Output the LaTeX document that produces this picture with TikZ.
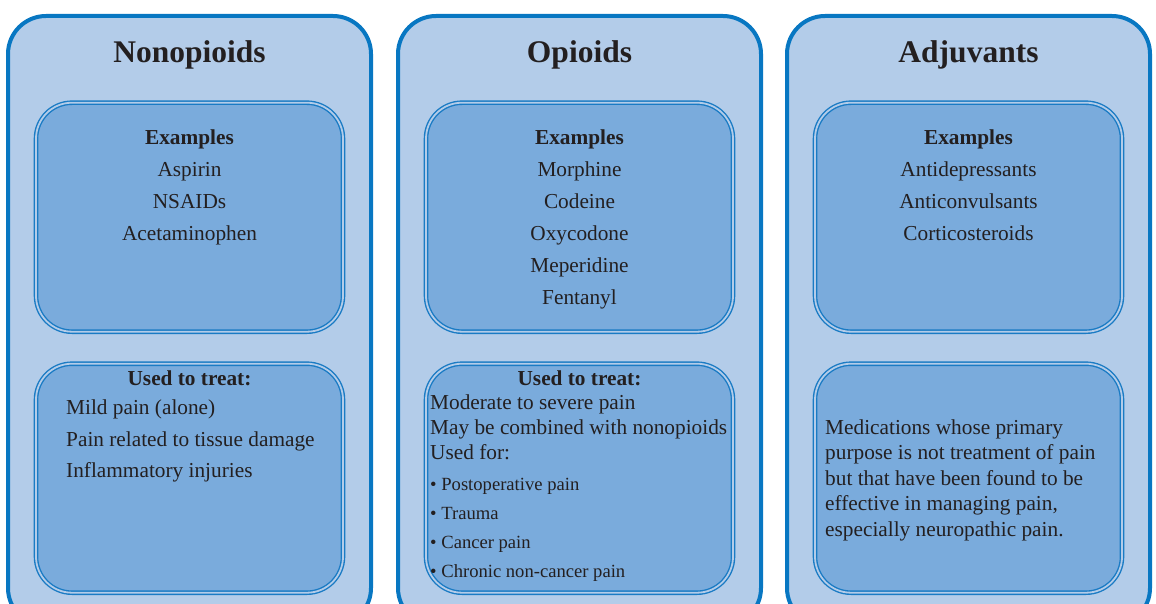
\documentclass[tikz,border=0pt]{standalone}
\usepackage{fontspec}
\setmainfont{Liberation Serif}
\definecolor{rimblue}{HTML}{0877C2}
\definecolor{panelfill}{HTML}{B3CCE9}
\definecolor{cardfill}{HTML}{7AABDC}
\definecolor{cardline}{HTML}{1A7BC4}
\definecolor{ink}{HTML}{231F20}
\begin{document}
\begin{tikzpicture}[x=1pt,y=-1pt,
  panel/.style={draw=rimblue,line width=4pt,fill=panelfill,rounded corners=38pt,
    minimum width=363pt,minimum height=610pt,inner sep=0pt,anchor=north},
  card/.style={draw=cardline,line width=1.4pt,double=panelfill,double distance=1.8pt,
    fill=cardfill,rounded corners=36pt,minimum width=307pt,minimum height=229pt,
    inner sep=0pt,anchor=north},
  title/.style={text=ink,font=\fontsize{31.5}{36}\selectfont\bfseries,anchor=base,inner sep=0pt},
  head/.style={text=ink,font=\fontsize{21.3}{25}\selectfont\bfseries,anchor=base,inner sep=0pt},
  item/.style={text=ink,font=\fontsize{21.3}{25}\selectfont,anchor=base,inner sep=0pt},
  litem/.style={item,anchor=base west},
  bitem/.style={text=ink,font=\fontsize{18.6}{21}\selectfont,anchor=base west,inner sep=0pt},
]
\useasboundingbox (0,0) rectangle (1156,604);
\clip (0,0) rectangle (1156,604);

% three columns
\node[panel] (p1) at (189.5,14) {};
\node[panel] (p2) at (579.5,14) {};
\node[panel] (p3) at (968.5,14) {};

% example cards and treatment cards
\node[card] (e1) at (189.5,102) {};
\node[card] (e2) at (579.5,102) {};
\node[card] (e3) at (968.5,102) {};
\node[card] (u1) at (189.5,363) {};
\node[card] (u2) at (579.5,363) {};
\node[card] (u3) at (968.5,363) {};

% titles
\node[title] (t1) at (189.5,63) {Nonopioids};
\node[title] (t2) at (579.5,63) {Opioids};
\node[title] (t3) at (968.5,63) {Adjuvants};

% nonopioids
\node[head] (h1) at (189.5,144.5) {Examples};
\node[item] (a1) at (189.5,176.5) {Aspirin};
\node[item] (a2) at (189.5,208.5) {NSAIDs};
\node[item] (a3) at (189.5,240.5) {Acetaminophen};
\node[head] (k1) at (189.5,385) {Used to treat:};
\node[litem] (m1) at (66,414.5) {Mild pain (alone)};
\node[litem] (m2) at (66,446) {Pain related to tissue damage};
\node[litem] (m3) at (66,477.5) {Inflammatory injuries};

% opioids
\node[head] (h2) at (579.5,144.5) {Examples};
\node[item] (b1) at (579.5,176.5) {Morphine};
\node[item] (b2) at (579.5,208.5) {Codeine};
\node[item] (b3) at (579.5,240.5) {Oxycodone};
\node[item] (b4) at (579.5,272.5) {Meperidine};
\node[item] (b5) at (579.5,304.5) {Fentanyl};
\node[head] (k2) at (579.5,385) {Used to treat:};
\node[litem] (n1) at (430,409) {Moderate to severe pain};
\node[litem] (n2) at (430,434.5) {May be combined with nonopioids};
\node[litem] (n3) at (430,459.5) {Used for:};
\node[bitem] (q1) at (430,490) {\textbullet\ Postoperative pain};
\node[bitem] (q2) at (430,519) {\textbullet\ Trauma};
\node[bitem] (q3) at (430,548) {\textbullet\ Cancer pain};
\node[bitem] (q4) at (430,577) {\textbullet\ Chronic non-cancer pain};

% adjuvants
\node[head] (h3) at (968.5,144.5) {Examples};
\node[item] (c1) at (968.5,176.5) {Antidepressants};
\node[item] (c2) at (968.5,208.5) {Anticonvulsants};
\node[item] (c3) at (968.5,240.5) {Corticosteroids};
\node[litem] (r1) at (825,434) {Medications whose primary};
\node[litem] (r2) at (825,459.5) {purpose is not treatment of pain};
\node[litem] (r3) at (825,485) {but that have been found to be};
\node[litem] (r4) at (825,510.5) {effective in managing pain,};
\node[litem] (r5) at (825,536) {especially neuropathic pain.};
\end{tikzpicture}
\end{document}
